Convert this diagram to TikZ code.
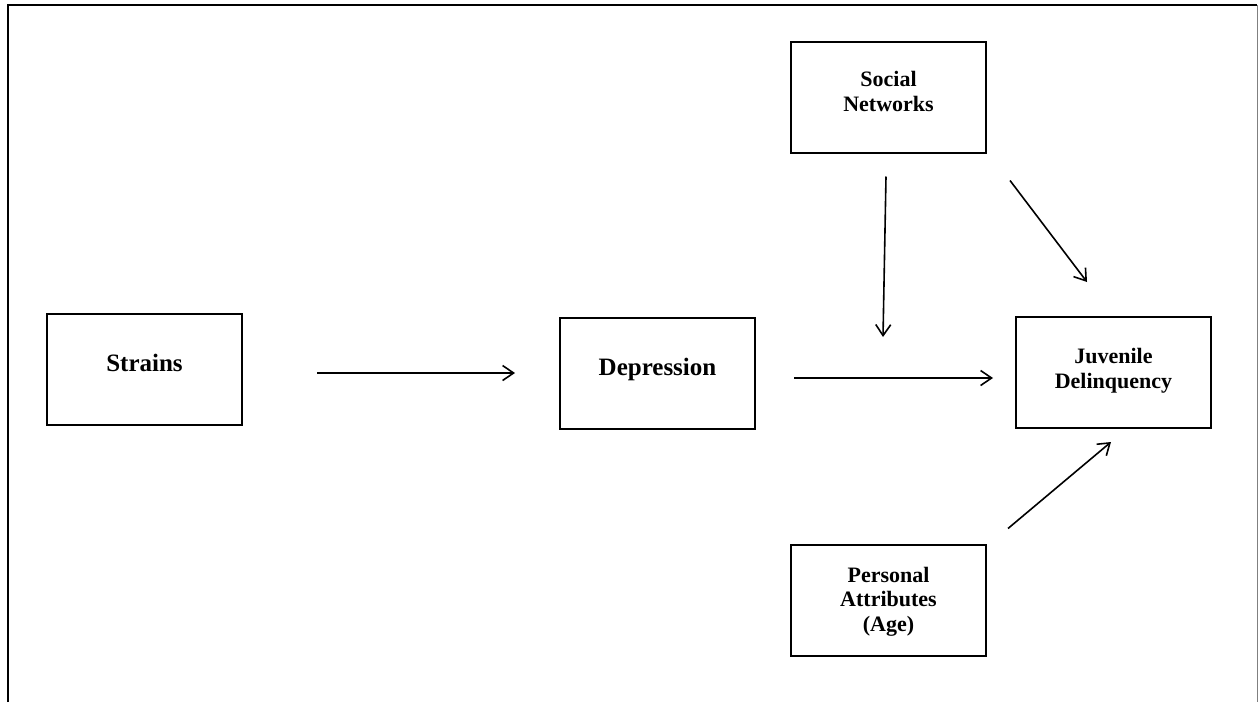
\documentclass[tikz,border=0pt]{standalone}
\usepackage{fontspec}
\setmainfont{Liberation Serif}
\usepackage{tikz}
\usetikzlibrary{arrows.meta,positioning,calc}
\newcommand{\bigtxt}{\fontsize{25}{30}\selectfont\bfseries}
\newcommand{\smalltxt}{\fontsize{22}{24.5}\selectfont\bfseries}
\newcommand{\lw}{2pt}

\begin{document}
\begin{tikzpicture}[x=1pt,y=-1pt,auto,
	box/.style={draw,rectangle,line width=\lw,minimum width=195pt,minimum height=111pt,outer sep=0pt,align=center},
	bigbox/.style={box,font=\bigtxt,text height=17pt,text depth=14pt},
	smallbox/.style={box,font=\smalltxt},
	arr/.style={-{Straight Barb[length=11pt,width=15pt,line width=1.6pt]},line width=1.6pt}]
\useasboundingbox (0,0) rectangle (1258,702);
%
\draw[line width=2pt] (8,702) |- (1257,5);
\draw[line width=1pt,gray] (1257,5) -- (1257,702);
%
\node[bigbox]                                (strains)    at (144.5,369.5) {Strains};
\node[bigbox,right=318pt of strains,yshift=-4pt]   (depression) {Depression};
\node[smallbox,text height=40pt,text depth=9pt,right=261pt of depression,yshift=1pt] (juvenile) {Juvenile\\Delinquency};
\node[smallbox,text height=40pt,text depth=12pt] (social)  at (888.5,97) {Social\\Networks};
\node[smallbox,text height=64pt,text depth=2pt,below=392pt of social] (personal) {Personal\\Attributes\\(Age)};
%
\coordinate (moderate) at ($(depression.east)!.5!(juvenile.west)+(-2.5,-36)$);
%
\path[arr]
	($(strains.east)+(75,3.5)$)       edge ($(depression.west)+(-45,-0.5)$)
	($(depression.east)+(39,4.5)$)    edge ($(juvenile.west)+(-23,5.5)$)
	($(social.south)+(-2.5,24)$)      edge (moderate)
	($(social.south east)+(24,28)$)   edge ($(juvenile.north)+(-26.5,-35)$)
	($(personal.north east)+(22,-16)$) edge ($(juvenile.south)+(-2.5,14)$)
; %-path-%
\end{tikzpicture}
\end{document}
